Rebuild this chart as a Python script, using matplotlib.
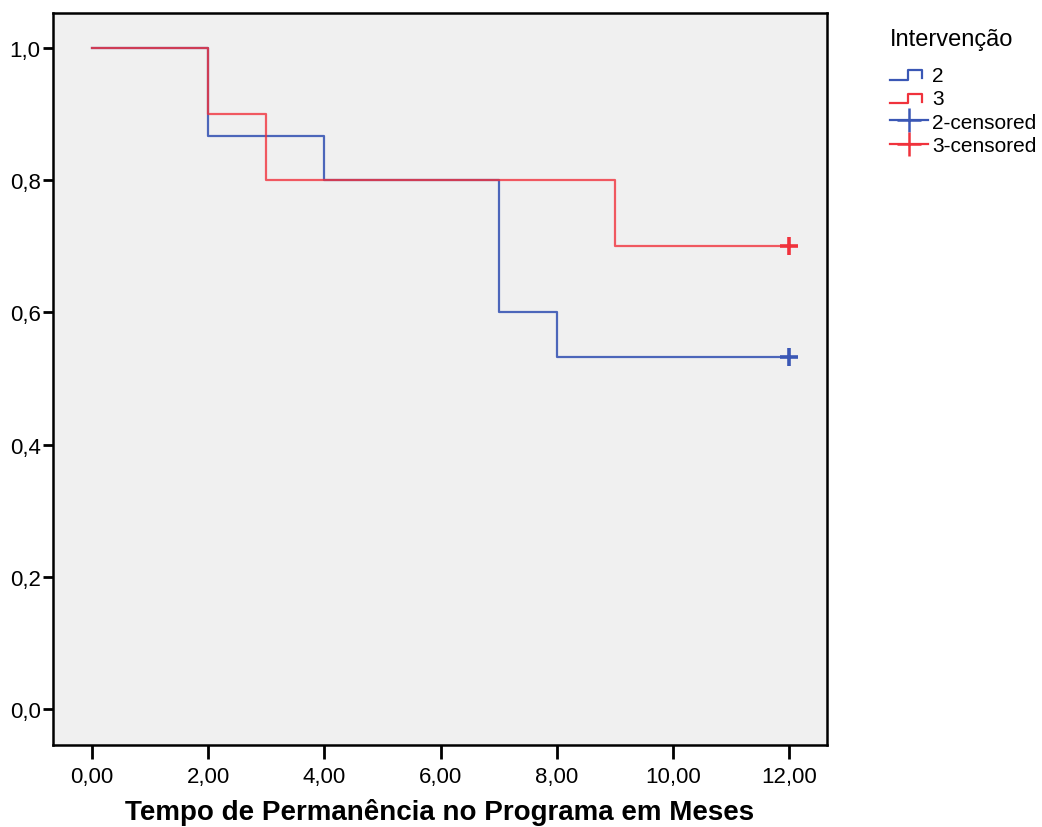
import matplotlib
matplotlib.use("Agg")
import matplotlib.pyplot as plt
from matplotlib.lines import Line2D
from matplotlib.legend_handler import HandlerLine2D

plt.rcParams["font.family"] = ["Liberation Sans", "DejaVu Sans"]

# =========================
# DADOS (Kaplan-Meier)
# =========================

TIMES_2 = [0, 2, 4, 7, 8, 12]
SURV_2 = [1.0, 0.8667, 0.8, 0.6, 0.5333, 0.5333]

TIMES_3 = [0, 2, 3, 9, 12]
SURV_3 = [1.0, 0.9, 0.8, 0.7, 0.7]

CENSOR_T_2 = [12]
CENSOR_S_2 = [0.5333]
CENSOR_T_3 = [12]
CENSOR_S_3 = [0.7]

X_TICKS = [0, 2, 4, 6, 8, 10, 12]
Y_TICKS = [0.0, 0.2, 0.4, 0.6, 0.8, 1.0]

BLUE = "#3A57B5"
RED = "#F0323C"
BG = "#F0F0F0"


class StepHandler(HandlerLine2D):
    # simbolo em degrau para as curvas na legenda
    def create_artists(self, legend, orig_handle, xdescent, ydescent,
                       width, height, fontsize, trans):
        x0 = -xdescent
        y_low = -ydescent + height * 0.1
        y_high = -ydescent + height * 0.75
        xs = [x0, x0 + width * 0.47, x0 + width * 0.47, x0 + width * 0.84, x0 + width * 0.84]
        ys = [y_low, y_low, y_high, y_high, y_low + height * 0.1]
        line = Line2D(xs, ys, color=orig_handle.get_color(),
                      linewidth=orig_handle.get_linewidth())
        line.set_transform(trans)
        return [line]


fig = plt.figure(figsize=(10.42, 8.28), dpi=100)
ax = fig.add_axes([0.0509, 0.099, 0.7428, 0.884])
ax.set_facecolor(BG)

ax.step(TIMES_2, SURV_2, where="post", color=BLUE, lw=1.6, alpha=0.9)
ax.step(TIMES_3, SURV_3, where="post", color=RED, lw=1.6, alpha=0.8)
ax.plot(CENSOR_T_2, CENSOR_S_2, "+", color=BLUE, ms=13, mew=2.6)
ax.plot(CENSOR_T_3, CENSOR_S_3, "+", color=RED, ms=13, mew=2.6)

ax.set_xlim(-0.67, 12.65)
ax.set_ylim(-0.0545, 1.053)
ax.set_xticks(X_TICKS)
ax.set_xticklabels([f"{v:.2f}".replace(".", ",") for v in X_TICKS])
ax.set_yticks(Y_TICKS)
ax.set_yticklabels([f"{v:.1f}".replace(".", ",") for v in Y_TICKS])
ax.tick_params(axis="both", direction="out", width=2, labelsize=16, colors="black")
ax.tick_params(axis="x", length=10, pad=5)
ax.tick_params(axis="y", length=7, pad=2)
for sp in ax.spines.values():
    sp.set_linewidth(1.8)

ax.set_xlabel("Tempo de Permanência no Programa em Meses",
              fontsize=20, fontweight="bold", labelpad=8)

handles = [
    Line2D([], [], color=BLUE, lw=1.6),
    Line2D([], [], color=RED, lw=1.6),
    Line2D([], [], color=BLUE, lw=1.6, marker="+", ms=17, mew=1.8),
    Line2D([], [], color=RED, lw=1.6, marker="+", ms=17, mew=1.8),
]
labels = ["2", "3", "2-censored", "3-censored"]
leg = fig.legend(handles, labels, title="Intervenção",
                 loc="upper left", bbox_to_anchor=(0.840, 0.983),
                 frameon=False, fontsize=15, title_fontsize=17,
                 handlelength=1.83, handletextpad=0.2, labelspacing=0.2,
                 borderpad=0.2,
                 handler_map={handles[0]: StepHandler(), handles[1]: StepHandler()})
leg._legend_box.align = "left"
leg._legend_box.sep = 12

fig.savefig("out.png", dpi=100)
